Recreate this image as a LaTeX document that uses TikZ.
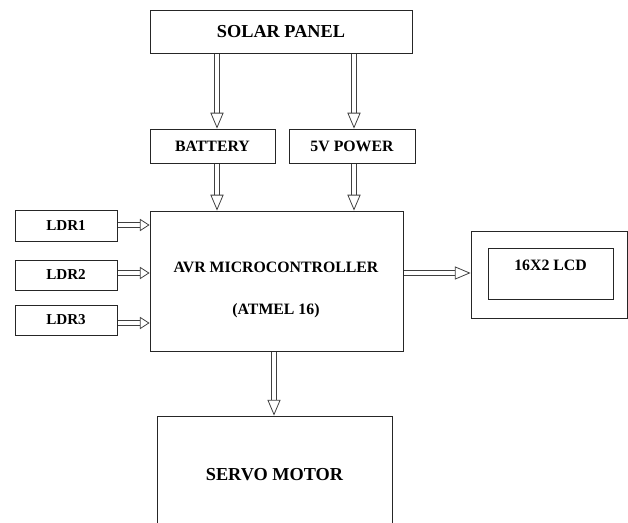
\documentclass[tikz,border=0pt]{standalone}
\usepackage{fontspec}
\setmainfont{Liberation Serif}
\usetikzlibrary{arrows.meta}
\tikzset{
  blk/.style={
    shape = rectangle,
    draw = black!85,
    line width = 0.5pt,
    inner sep = 0pt,
    font = \bfseries\fontsize{9}{11}\selectfont
  },
  big/.style={
    font = \bfseries\fontsize{10.4}{12}\selectfont
  },
  txt/.style={
    inner sep = 0pt,
    font = \bfseries\fontsize{9}{11}\selectfont
  },
  pipe/.style={
    draw = black!75,
    double = white,
    double distance = 2.6pt,
    line width = 0.45pt,
    shorten <= 0.3pt,
    -{Triangle[open, length=9pt, width=7.5pt]}
  },
}
\begin{document}
\begin{tikzpicture}[x=0.02cm, y=-0.02cm]
        \useasboundingbox (0,0) rectangle (628,523);
        \clip (0,0) rectangle (628,523);
        % power side
        \node[blk, big, minimum width=262*0.02cm, minimum height=43*0.02cm] (solar) at (281,31.5) {SOLAR PANEL};
        \node[blk, minimum width=125*0.02cm, minimum height=34*0.02cm] (bat) at (212.5,146) {BATTERY};
        \node[blk, minimum width=126*0.02cm, minimum height=34*0.02cm] (pwr) at (352,146) {5V POWER};
        % controller
        \node[blk, minimum width=253*0.02cm, minimum height=140*0.02cm] (avr) at (276.5,281) {};
        \node[txt, align=center] (avrtxt) at (276,290) {AVR MICROCONTROLLER\\[12.5pt](ATMEL 16)};
        % sensors
        \node[blk, font=\bfseries\fontsize{8.6}{10}\selectfont, minimum width=102*0.02cm, minimum height=31*0.02cm] (ldr1) at (66,226) {LDR1};
        \node[blk, font=\bfseries\fontsize{8.6}{10}\selectfont, minimum width=102*0.02cm, minimum height=30*0.02cm] (ldr2) at (66,275) {LDR2};
        \node[blk, font=\bfseries\fontsize{8.6}{10}\selectfont, minimum width=102*0.02cm, minimum height=30*0.02cm] (ldr3) at (66,320) {LDR3};
        % display
        \node[blk, minimum width=156*0.02cm, minimum height=87*0.02cm] (lcd) at (549,274.5) {};
        \node[blk, minimum width=125*0.02cm, minimum height=51*0.02cm] (lcdin) at (550.5,273.5) {};
        \node[txt] (lcdtxt) at (550.5,265) {16X2 LCD};
        % actuator
        \node[blk, big, minimum width=235*0.02cm, minimum height=118*0.02cm] (servo) at (274.5,475) {SERVO MOTOR};
        % connections
        \draw[pipe] (solar.south -| 217,0) -- (bat.north -| 217,0);
        \draw[pipe] (solar.south -| 354,0) -- (pwr.north -| 354,0);
        \draw[pipe] (bat.south -| 217,0) -- (avr.north -| 217,0);
        \draw[pipe] (pwr.south -| 354,0) -- (avr.north -| 354,0);
        \draw[pipe, -{Triangle[open, length=5.5pt, width=7pt]}] (ldr1.east |- 0,225) -- (avr.west |- 0,225);
        \draw[pipe, -{Triangle[open, length=5.5pt, width=7pt]}] (ldr2.east |- 0,273) -- (avr.west |- 0,273);
        \draw[pipe, -{Triangle[open, length=5.5pt, width=7pt]}] (ldr3.east |- 0,323) -- (avr.west |- 0,323);
        \draw[pipe] (avr.east |- 0,273) -- (lcd.west |- 0,273);
        \draw[pipe] (avr.south -| 274,0) -- (servo.north -| 274,0);
    \end{tikzpicture}
\end{document}
